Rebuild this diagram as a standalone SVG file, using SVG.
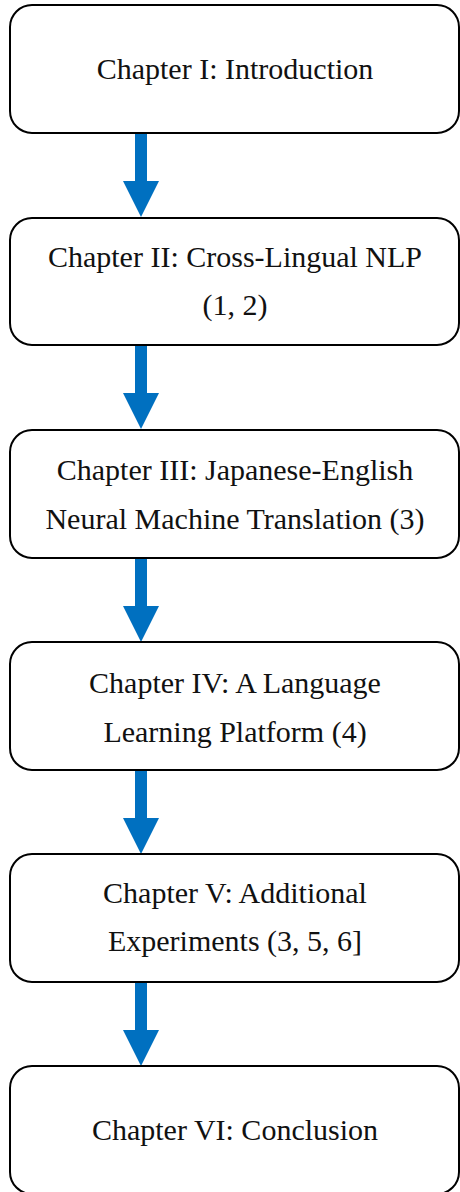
<svg xmlns="http://www.w3.org/2000/svg" width="460" height="1192" viewBox="0 0 460 1192">
  <style>
    .box { fill: #ffffff; stroke: #000000; stroke-width: 2; }
    .label { font-family: "Liberation Serif", "DejaVu Serif", serif; font-size: 30px; fill: #111111; text-anchor: middle; }
    .arrow { fill: #0070C0; }
  </style>
  <defs>
    <!-- Block arrow: 12px shaft, 36px head, 84px tall overall -->
    <path id="blockArrow" d="M -6 0 H 6 V 48 H 18 L 0 84 L -18 48 H -6 Z"/>
  </defs>
  <rect width="460" height="1192" fill="#ffffff"/>

  <g id="connectors" class="arrow">
    <use href="#blockArrow" x="141" y="133"/>
    <use href="#blockArrow" x="141" y="345"/>
    <use href="#blockArrow" x="141" y="558"/>
    <use href="#blockArrow" x="141" y="770"/>
    <use href="#blockArrow" x="141" y="982"/>
  </g>

  <g id="chapter1">
    <rect class="box" x="10" y="5" width="449" height="128" rx="22"/>
    <text class="label" x="235" y="79">Chapter I: Introduction</text>
  </g>

  <g id="chapter2">
    <rect class="box" x="10" y="218" width="449" height="127" rx="22"/>
    <text class="label" x="235" y="267">Chapter II: Cross-Lingual NLP</text>
    <text class="label" x="235" y="315">(1, 2)</text>
  </g>

  <g id="chapter3">
    <rect class="box" x="10" y="430" width="449" height="128" rx="22"/>
    <text class="label" x="235" y="480">Chapter III: Japanese-English</text>
    <text class="label" x="235" y="529">Neural Machine Translation (3)</text>
  </g>

  <g id="chapter4">
    <rect class="box" x="10" y="642" width="449" height="128" rx="22"/>
    <text class="label" x="235" y="693">Chapter IV: A Language</text>
    <text class="label" x="235" y="742">Learning Platform (4)</text>
  </g>

  <g id="chapter5">
    <rect class="box" x="10" y="854" width="449" height="128" rx="22"/>
    <text class="label" x="235" y="903">Chapter V: Additional</text>
    <text class="label" x="235" y="951">Experiments (3, 5, 6]</text>
  </g>

  <g id="chapter6">
    <rect class="box" x="10" y="1066" width="449" height="128" rx="22"/>
    <text class="label" x="235" y="1140">Chapter VI: Conclusion</text>
  </g>
</svg>
